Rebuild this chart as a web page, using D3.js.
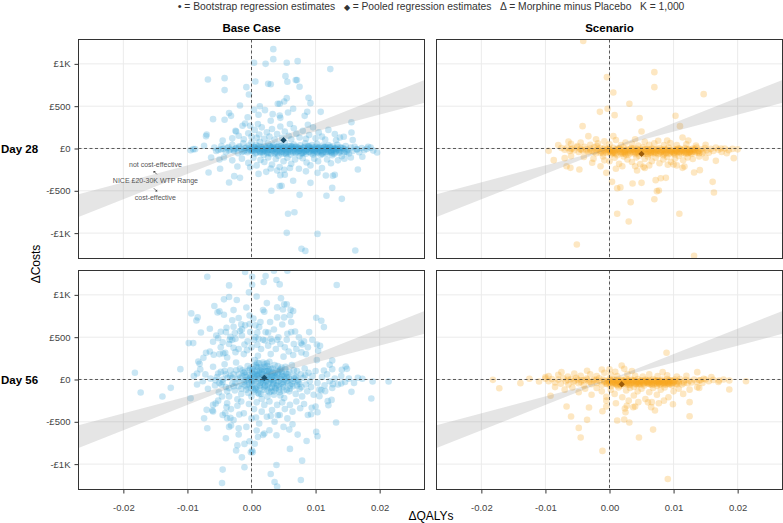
<!DOCTYPE html>
<html>
<head>
<meta charset="utf-8">
<script src="https://cdn.jsdelivr.net/npm/d3@7"></script>
<style>
  body { margin: 0; background: #fff; }
  svg text { font-family: "Liberation Sans", Arial, Helvetica, sans-serif; }
  .grid line { stroke: #ebebeb; stroke-width: 1; }
  .zero { stroke: #333; stroke-width: 0.8; stroke-dasharray: 3,2.5; }
  .axis path.domain { display: none; }
  .axis line { stroke: #333; }
  .axis text { fill: #444; font-size: 9.5px; }
</style>
</head>
<body>
<div id="chart"></div>
<script>
/*
 * Cost-effectiveness planes: 2 scenarios x 2 time points
 * Bootstrap points are [dQALY x 1e4, dCost in £]
 */

const scenarios = ["Base Case", "Scenario"];
const timepoints = ["Day 28", "Day 56"];

const xDomain = [-0.027, 0.027];
const yDomain = [-1300, 1288];
const xTicks = [-0.02, -0.01, 0, 0.01, 0.02];
const xTickLabels = ["-0.02", "-0.01", "0.00", "0.01", "0.02"];
const yTicks = [-1000, -500, 0, 500, 1000];
const yTickLabels = ["-£1K", "-£500", "£0", "£500", "£1K"];

// NICE willingness-to-pay band (£ per QALY)
const wtpRange = [20000, 30000];

// pooled regression estimates, order: base28, scen28, base56, scen56
const pooledQaly = [0.0050, 0.0050, 0.0020, 0.0019];
const pooledCost = [98, -64, 20, -56];

const noteLines = ["not cost-effective", "NICE £20-30K WTP Range", "cost-effective"];
const noteCost = [-186, -383, -576];
const noteArrowCost = [-288, -488];
const noteQaly = -0.015;

// header legend pieces: [text, font size]
const headerParts = [
  ["\u2022", 11], [" = Bootstrap regression estimates   ", 10.3],
  ["\u25C6", 7.5], [" = Pooled regression estimates   \u0394 = Morphine minus Placebo   K = 1,000", 10.3]
];

const baseDay28 = [
  [34,1174],[34,1056],[4,1013],[22,1000],[55,1013],[72,1032],[123,938],[-68,816],[-42,831],[-42,690],[-8,725],[6,792],[-4,638],[26,764],[30,760],[53,855],[56,788],[69,808],[71,808],[75,729],
  [-18,508],[41,528],[44,528],[51,556],[55,595],[89,599],[92,536],[-60,347],[-42,339],[-35,418],[-32,386],[-6,370],[4,457],[11,398],[13,500],[21,453],[30,327],[33,406],[44,390],[57,425],[45,362],[65,469],[83,386],[87,433],[108,433],[156,311],[156,189],[-71,146],[-70,165],[-24,201],[-10,296],[-14,268],[-2,268],
  [-74,32],[-91,-8],[-95,-20],[-88,-8],[-63,-106],[-43,-106],[-67,-284],[-49,-240],[-35,-402],[-27,-327],[-18,-347],[-22,-213],[-2,-221],[11,-300],[23,-276],[30,-236],[45,-315],[52,-311],[51,-252],[31,-500],[44,-445],[47,-440],[65,-382],[75,-548],[92,-406],[103,-288],[116,-319],[127,-323],[130,-310],[126,-465],[117,-559],[141,-595],[166,-248],[57,-772],[67,-753],[55,-997],[103,-1009],[78,-1186],[84,-1210],[162,-1206],
  [182,20],[196,-47],[173,-98],[155,-106],[165,-12],[158,99],[144,138],[138,130],[132,98],[149,-43],[141,-91],[126,-80],
  [-30,120],[-20,150],[-12,110],[-5,180],[0,140],[5,220],[8,125],[12,165],[16,250],[20,115],[24,190],[28,140],[32,230],[36,105],[40,170],[45,260],[48,125],[52,200],[58,150],[62,110],[66,240],[70,175],[75,130],[80,210],[85,115],[90,160],[96,250],[100,120],[105,190],[110,140],[115,105],[120,220],[-45,95],[-25,210],[10,290],[60,290],[88,280],[130,170],
  [-30,-140],[-15,-120],[-5,-170],[3,-110],[8,-200],[14,-135],[20,-160],[26,-105],[32,-190],[38,-125],[44,-220],[50,-150],[56,-110],[62,-180],[68,-130],[74,-240],[80,-115],[86,-165],[92,-200],[98,-120],[104,-150],[110,-230],[118,-130],[124,-175],[135,-140],[145,-120],[-50,-130],[40,-260],[60,-230],[85,-270],
  [-58,12],[-52,-18],[-47,30],[-44,-5],[-40,-40],[-36,18],[-33,-12],[-30,45],[-27,-30],[-24,5],[-21,-55],[-19,25],[-16,-8],[-13,60],[-11,-22],[-8,10],[-6,-45],[-4,35],[-2,-15],[0,70],
  [1,-5],[3,-35],[4,20],[6,-60],[7,45],[9,-12],[10,5],[12,-28],[13,80],[14,-50],[16,15],[17,-8],[19,-75],[20,35],[21,-20],[23,0],[24,-42],[26,60],[27,-14],[29,22],[30,-65],[31,8],[33,-30],[34,40],[36,-5],[37,-52],[39,18],[40,-20],[42,-85],[43,50],[45,-10],[46,25],[48,-38],[49,5],[51,-60],[52,70],[54,-18],[55,12],[57,-45],[58,30],[60,-8],[61,-72],[63,15],[64,-28],[66,48],[67,-3],[69,-55],[70,22],[72,-35],[73,5],[75,-90],[76,38],[78,-15],[79,-48],[81,10],[82,-25],[84,62],[85,-62],[87,-5],[88,28],[90,-40],[91,0],[93,-20],[94,42],[96,-70],[97,15],[99,-32],[100,-8],[102,55],[103,-50],[105,18],[106,-22],[108,-78],[109,5],[111,35],[112,-40],[114,-12],[115,22],[117,-58],[118,-2],[120,40],[121,-28],[123,8],[124,-45],[126,-15],[127,25],[129,-62],[130,0],[132,-30],[134,45],[135,-10],[137,-50],[139,15],[140,-25],[143,5],[145,-40],[147,30],[150,-15],[152,-60],[155,10],[158,-30],[161,20],[164,-8],[168,-45],[172,5],[176,-20],[180,-5],[186,10],[190,-25],
  [2,-25],[5,8],[8,-48],[11,25],[15,-10],[18,-32],[22,12],[25,-55],[28,30],[32,-18],[35,-2],[38,-38],[41,15],[44,-25],[47,-60],[50,-5],[53,20],[56,-35],[59,-15],[62,5],[65,-48],[68,18],[71,-10],[74,-30],[77,0],[80,-55],[83,20],[86,-18],[89,-35],[92,8],[95,-12],[98,-50],[101,20],[104,-5],[107,-35],[110,-18],[113,10],[116,-40],[119,-20],[122,12],[125,-35],[128,-8],[131,-45],[134,10],[137,-20],
  [-4,0],[0,-30],[6,15],[13,-42],[19,-5],[26,-25],[33,15],[40,-55],[47,5],[54,-48],[61,30],[68,-25],[75,-5],[82,-40],[89,15],[96,-28],[103,0],[110,-55],[117,15],[124,-25],[131,5],[138,-35],[145,-10],[-12,-35],[-20,12],[-28,-15],[-38,5],[-48,-10],[-55,-30],
  [21,-30],[24,10],[27,-50],[30,-15],[33,25],[36,-60],[39,-8],[42,30],[45,-42],[48,-20],[51,18],[54,-65],[57,0],[60,-35],[63,25],[66,-12],[69,-45],[72,10],[75,-25],[78,-60],[81,5],[84,-35],[87,-15],[90,25],[93,-55],[96,0],[99,-20],[102,-45],[105,5],[108,-28],[111,-65],[114,15],[117,-10],[120,-38],[123,20],[126,-55],[129,-18],[10,-10],[14,20],[17,-45],[5,-15],[0,10],[-5,-25],[-10,5],[-15,-40],[132,-10],[140,5],[148,-35],[-25,-5],[-35,-25]
];

const scenarioDay28 = [
  [-41,1270],[-4,843],[6,662],[70,902],[70,725],[147,642],[31,528],[-15,433],[-3,469],[8,394],[47,359],[103,386],[-42,264],[50,201],[110,264],[-33,146],[-21,110],[6,146],[76,91],[114,130],[123,95],[-64,83],
  [-95,-28],[-87,-138],[-70,-114],[-67,-209],[-61,-229],[-47,-248],[-27,-169],[-14,-209],[-5,-288],[4,-394],[12,-469],[17,-460],[36,-414],[50,-406],[33,-634],[12,-772],[30,-863],[-51,-1135],[132,-1269],[70,-599],[74,-504],[77,-497],[72,-374],[80,-351],[88,-347],[109,-772],[161,-394],[163,-520],[132,-284],[141,-256],[114,-229],[117,-213],[105,-200],[91,-193],[166,-146],[183,-55],[194,-114],[174,0],[53,-217],[43,-260],[40,-209],
  [-80,40],[-60,55],[-45,70],[-30,45],[-18,60],[-8,85],[0,50],[10,100],[18,40],[25,70],[35,55],[45,35],[55,80],[62,45],[70,60],[85,40],[95,65],[105,40],[120,50],[135,35],[150,45],[-50,30],[-20,30],[40,110],[90,95],
  [-60,-90],[-40,-100],[-25,-120],[-10,-95],[0,-150],[8,-110],[15,-180],[22,-95],[28,-130],[35,-160],[42,-105],[48,-185],[55,-125],[60,-95],[66,-150],[72,-110],[78,-175],[84,-130],[90,-100],[96,-160],[102,-120],[108,-90],[115,-140],[122,-105],[130,-125],[140,-95],[150,-110],[20,-210],[62,-200],[100,-190],[-8,-140],[10,-240],[55,-230],
  [-75,5],[-70,-15],[-66,10],[-62,-30],[-58,0],[-55,-20],[-51,15],[-48,-40],[-45,-5],[-42,-25],[-39,20],[-36,-10],[-33,-45],[-30,0],[-27,-30],[-24,15],[-21,-55],[-18,-10],[-15,5],[-12,-35],[-10,-60],[-7,10],[-5,-20],[-2,-45],[0,-5],
  [2,-70],[4,-25],[6,8],[8,-50],[10,-15],[12,-80],[14,-35],[16,0],[18,-60],[20,-20],[22,10],[24,-45],[26,-75],[28,-8],[30,-30],[32,-55],[34,5],[36,-40],[38,-18],[40,-65],[42,-2],[44,-35],[46,-85],[48,-12],[50,-50],[52,15],[54,-28],[56,-62],[58,-5],[60,-42],[62,-20],[64,-75],[66,0],[68,-38],[70,-55],[72,-15],[74,-30],[76,-68],[78,5],[80,-45],[82,-22],[84,-80],[86,-8],[88,-52],[90,-30],[92,10],[94,-62],[96,-18],[98,-40],[100,-5],[102,-70],[104,-28],[106,-48],[108,2],[110,-35],[112,-60],[114,-15],[116,-42],[118,5],[120,-25],[122,-55],[124,-8],[126,-35],[128,-65],[130,0],[132,-20],[134,-45],[136,10],[138,-30],[140,-55],[143,-10],[146,-38],[149,5],[152,-22],[155,-50],[158,-5],[162,-30],[166,10],[170,-15],[175,-40],[180,0],[186,-20],[192,-5],[200,-10],
  [-8,-28],[-3,-8],[1,-38],[5,-55],[9,-22],[13,-5],[17,-42],[21,-62],[25,-18],[29,-48],[33,-25],[37,-2],[41,-50],[45,-20],[49,-38],[53,-60],[57,-15],[61,-30],[65,-48],[69,-8],[73,-52],[77,-25],[81,-12],[85,-40],[89,-60],[93,-22],[97,-35],[101,-50],[105,-12],[109,-45],[113,-28],[117,-58],[121,-10],[125,-40],[129,-22],[133,-5],[137,-48],
  [-20,-20],[-14,-50],[0,-25],[7,-40],[15,-18],[23,-35],[31,-12],[39,-45],[47,-30],[55,-45],[63,-10],[71,-35],[79,-60],[87,-25],[95,-48],[103,-30],[111,-15],[119,-40],[127,-50],[135,-25],[145,-55],[-30,-25],[-45,-15],[-60,-10],
  [-15,-30],[-10,-8],[-5,-48],[0,-15],[5,-35],[10,-62],[15,-5],[20,-45],[25,-25],[30,-70],[35,-15],[40,-35],[45,-55],[50,-20],[55,-5],[60,-65],[65,-30],[70,-45],[75,-10],[80,-35],[85,-65],[90,-15],[95,-30],[100,-55],[105,-40],[110,-5],[115,-30],[120,-60],[125,-20],[130,-38],[4,-50],[24,-58],[44,-12],[64,-50],[84,-22],[104,-18],[124,-48],[-24,-40],[-36,-30],[140,-30]
];

const baseDay56 = [
  [-69,1215],[-35,1112],[-43,947],[-35,974],[-23,939],[-10,1270],[1,1215],[1,1120],[-4,1030],[-58,868],[-53,793],[-50,805],[-43,765],[-94,781],[-86,698],[-84,734],[-79,556],[-98,430],[-91,430],[-60,446],[-52,489],[-48,564],[-39,611],[-33,505],[-28,623],[-26,548],[-16,651],[-15,592],[-20,726],[-18,572],[-3,757],[-3,655],[-34,470],[-30,470],[-28,375],[-25,323],[-65,331],[-71,316],[-75,256],[-83,213],[-81,185],[-59,292],[-44,308],[-41,316],[-11,414],[-7,347],
  [-182,79],[-173,-154],[-139,-201],[-126,-99],[-111,122],[-95,-221],[-85,71],[-70,-359],[-74,-458],[-69,-576],[-61,-367],[-60,-378],[-56,-284],[-46,-201],[-41,-398],[-39,-327],[-38,-458],[-33,-454],[-32,-544],[-19,-414],[-22,-233],[-20,-576],[-40,-694],[-22,-777],[-24,-840],[-11,-761],[-11,-1037],[-45,-1065],[-46,-1223],[-3,-730],[-1,-860],
  [22,1223],[19,1152],[35,1285],[56,1285],[39,1176],[44,1124],[133,1116],[24,903],[18,821],[40,852],[51,888],[55,888],[49,828],[61,824],[65,808],[40,734],[51,734],[62,679],[101,730],[109,694],[113,619],[14,679],[6,640],[9,556],[26,556],[56,540],[68,568],[4,470],[11,480],[21,460],[30,480],[40,470],[77,430],[79,414],[102,414],[104,339],[107,398],[102,229],[122,174],[126,122],[113,106],[141,114],[147,154],[149,126],[126,225],[173,8],[189,-24],[214,-24],[156,-146],[140,-47],[127,-55],[109,-126],[106,-197],[115,-138],[119,-256],[125,-241],[120,-304],[94,-335],[100,-320],[103,-387],[93,-410],[132,-509],[187,-225],[101,-619],[103,-671],[86,-726],[72,-651],[59,-592],[64,-529],[79,-959],[39,-1010],[30,-1116],[36,-1211],[40,-1266],[77,-1187],[2,-860],[20,-639],[8,-603],[18,-655],[39,-659],[30,-430],[41,-422],[7,-450],[1,-840],
  [-65,600],[-55,520],[-48,380],[-40,560],[-35,420],[-30,700],[-25,480],[-20,360],[-15,520],[-10,640],[-6,450],[-2,560],[0,380],[3,720],[6,500],[9,410],[12,620],[15,360],[18,470],[22,560],[26,400],[29,680],[32,450],[35,590],[38,360],[42,500],[45,420],[48,650],[52,380],[55,470],[58,330],[62,560],[66,420],[70,360],[74,500],[78,320],[82,450],[88,380],[95,470],[-50,300],[-38,260],[-12,300],[10,280],[30,300],[50,270],[65,290],[85,300],[-45,440],[20,800],[-8,850],[8,980],[46,960],[60,760],[-28,820],[90,560],
  [-60,-300],[-52,-250],[-45,-420],[-38,-280],[-32,-350],[-28,-480],[-22,-310],[-16,-260],[-12,-400],[-8,-560],[-4,-290],[0,-460],[4,-350],[8,-270],[12,-520],[16,-380],[20,-300],[24,-440],[28,-260],[32,-360],[36,-500],[40,-300],[44,-420],[48,-270],[52,-350],[56,-460],[60,-300],[64,-380],[70,-260],[76,-340],[82,-290],[88,-420],[-20,-650],[10,-680],[28,-600],[50,-560],[-35,-560],[5,-760],[60,-820],[-15,-920],
  [-90,40],[-85,-60],[-80,120],[-76,-20],[-72,60],[-68,-110],[-64,10],[-60,150],[-57,-70],[-54,30],[-51,-150],[-48,90],[-45,-30],[-42,180],[-40,-90],[-37,20],[-35,-200],[-33,110],[-30,-50],[-28,60],[-26,-130],[-24,200],[-22,0],[-20,-80],[-18,130],[-16,-170],[-14,40],[-12,-30],[-10,90],[-8,-120],[-6,160],[-4,-60],[-2,20],[0,-200],[1,100],[3,-20],[5,230],[6,-100],[8,50],[10,-160],[11,140],[13,-40],[15,70],[16,-230],[18,10],[20,180],[21,-70],[23,100],[25,-130],[27,30],[28,210],[30,-10],[32,-90],[33,130],[35,-180],[37,50],[39,-40],[41,160],[43,-120],[45,20],[47,90],[49,-60],[51,-220],[53,120],[55,-20],[57,60],[59,-140],[61,0],[63,170],[65,-80],[67,40],[69,-170],[71,100],[73,-30],[75,-110],[77,60],[79,-200],[81,20],[83,130],[85,-60],[87,-140],[89,80],[91,-20],[93,-90],[95,40],[97,-180],[100,100],[103,-40],[106,-120],[110,30],[114,-70],[118,60],[122,-20],[126,-100],[130,10],[135,-60],[140,40],[146,-30],[152,10],[160,-40],[166,20],
  [-18,20],[-15,-50],[-12,80],[-9,-10],[-6,-90],[-3,50],[0,-30],[2,120],[4,-60],[6,10],[8,150],[10,-20],[12,70],[14,-100],[16,30],[18,-40],[20,100],[22,-10],[24,-80],[26,60],[28,-30],[30,130],[32,0],[34,-60],[36,80],[38,-110],[40,20],[42,-20],[44,110],[46,-50],[48,40],[50,-90],[52,0],[54,70],[56,-40],[58,20],
  [-14,110],[-10,-70],[-5,0],[-1,-100],[3,160],[7,-120],[9,40],[13,-70],[17,120],[19,-10],[23,40],[25,160],[29,-100],[31,60],[35,-20],[39,100],[43,-80],[47,140],[51,40],[55,-120],[59,90],[63,-50],[67,10],[71,-70],
  [0,40],[5,90],[10,60],[15,140],[20,20],[25,100],[12,190],[18,200],[8,100],[2,70],[-4,110],[-8,30],[28,90],[35,40],[-25,-40],[-30,20],[-35,-100],[-40,60],[-45,0],[-50,-40],[5,-140],[15,-170],[25,-200],[35,-140],[45,-190],[-5,-160],[60,-110],[65,-20],[70,30],[75,-50],
  [-10,50],[-6,-20],[-2,130],[1,-60],[4,30],[7,170],[9,-90],[11,10],[13,110],[15,-30],[17,60],[19,-120],[21,150],[23,-20],[24,50],[26,-60],[27,120],[29,10],[31,-140],[33,80],[34,-40],[36,170],[38,30],[40,-70],[42,90],[44,-150],[46,0],[48,60],[50,-30],[53,150],[-16,-110],[-20,60],[-24,110],[-28,-80],[-33,40],[-38,-140],[-42,100],[-47,-60],[-52,70],[-56,-10],[0,0],[3,-120],[6,60],[9,200],[12,-170],[16,90],[20,-90],[24,190],[28,-150],[32,40],[37,-100],[41,60],[45,120],[50,-130],[55,30],[60,-70],[66,110],[72,-10],[78,-90],[84,50]
];

const scenarioDay56 = [
  [-182,-4],[-172,-103],[-139,-43],[-125,8],[-110,-24],[-92,-193],[-75,87],[-67,-320],[-60,-438],[-48,-572],[-45,-686],[-35,103],[-32,-331],[-35,-477],[-12,118],[-11,-375],[-11,-844],[-5,-205],[9,91],[19,166],[23,126],[12,-485],[23,-473],[31,-509],[25,-387],[27,-310],[40,-320],[46,-686],[68,-592],[65,-327],[66,-268],[83,87],[89,316],[99,-292],[91,-1176],[125,-268],[125,-434],[137,87],[137,-91],[159,28],[171,-12],[187,-118],[187,-12],[213,-20],[142,-10],[147,8],[24,-343],[37,-327],[45,-268],[71,-367],[77,-280],
  [-95,40],[-80,55],[-65,35],[-55,70],[-45,45],[-30,60],[-20,40],[-8,80],[2,55],[12,40],[28,65],[40,45],[52,35],[62,60],[75,40],[90,50],[105,35],[120,45],[-100,30],[0,120],[35,100],
  [-85,-90],[-70,-120],[-58,-95],[-48,-150],[-38,-110],[-28,-180],[-20,-100],[-12,-140],[-5,-250],[2,-120],[8,-170],[14,-95],[20,-210],[26,-130],[32,-100],[38,-190],[44,-140],[50,-110],[56,-230],[62,-150],[68,-100],[74,-180],[80,-120],[86,-95],[92,-210],[100,-140],[108,-110],[115,-170],[125,-120],[140,-100],[30,-250],[60,-270],[-5,-320],[10,-280],[85,-250],
  [-100,10],[-95,-20],[-90,5],[-85,-35],[-80,0],[-76,-50],[-72,15],[-68,-20],[-64,-60],[-60,5],[-56,-30],[-52,20],[-48,-45],[-44,-10],[-40,-70],[-36,10],[-32,-25],[-28,-55],[-24,0],[-20,-40],[-16,15],[-12,-65],[-8,-15],[-4,-35],[0,5],[2,-80],[4,-25],[6,-50],[8,0],[10,-35],[12,-60],[14,-10],[16,-45],[18,-75],[20,-5],[22,-30],[24,-55],[26,10],[28,-40],[30,-20],[32,-65],[34,0],[36,-35],[38,-85],[40,-15],[42,-50],[44,5],[46,-28],[48,-60],[50,-10],[52,-42],[54,-70],[56,0],[58,-25],[60,-50],[62,-8],[64,-35],[66,-65],[68,5],[70,-20],[72,-45],[74,-75],[76,-10],[78,-30],[80,-55],[82,0],[84,-38],[86,-18],[88,-62],[90,5],[92,-28],[94,-48],[96,-10],[98,-70],[100,-30],[102,0],[104,-50],[106,-20],[108,-40],[110,5],[113,-60],[116,-25],[119,-5],[122,-45],[125,-15],[128,-35],[132,0],[136,-30],[140,-10],[145,-40],[150,0],[155,-20],[162,-5],[170,-30],[178,0],
  [-15,-20],[-10,0],[-5,-50],[0,-25],[5,-5],[9,-45],[13,-20],[17,-55],[21,-15],[25,-38],[29,-5],[33,-48],[37,-20],[41,-60],[45,-35],[49,-15],[53,-52],[57,-30],[61,-45],[65,-12],[69,-55],[73,-25],[77,-40],[81,-15],[85,-55],[89,-32],[93,-8],[97,-45],[101,-20],[105,-60],[-25,-15],[-35,-5],[-45,-30],[-55,-15],[-65,-5],
  [-2,-15],[3,-40],[7,-20],[11,-8],[15,-30],[19,-42],[23,-18],[27,-58],[31,-32],[35,-12],[39,-45],[43,-25],[47,-40],[51,-28],[55,-18],[59,-38],[63,-55],[67,-28],[71,-10],[75,-50],[79,-22],[83,-45],[87,-30],[91,-50],[95,-25],[99,-40],
  [-8,-30],[-3,-55],[1,-10],[6,-35],[10,-55],[14,-20],[18,-5],[22,-48],[26,-25],[30,-62],[34,-38],[38,-10],[42,-30],[46,-52],[50,-22],[54,-40],[58,-8],[62,-30],[66,-50],[70,-35],[74,-15],[78,-58],[82,-28],[86,-42],[90,-20],[94,-60],[98,-15],[-20,-5],[-30,-30],[-40,-10],[0,-45],[12,-70],[28,-12],[44,-62],[60,-20],[76,-32],[92,-40],[108,-25],[116,-45],[-50,0]
];

const panelData = [baseDay28, scenarioDay28, baseDay56, scenarioDay56];

const pointColors = ["#37a3d7", "#f7a51c"];
const pooledColors = ["#1a4e6b", "#9c5c0a"];

const layout = { left: 78.5, top: 39.5, panelW: 346, panelH: 219, gapX: 12, gapY: 12 };

/*
 * PlaneVis - one cost-effectiveness plane panel
 */
class PlaneVis {
  constructor(_svg, _index, _points) {
    this.svg = _svg;
    this.index = _index;
    this.col = _index % 2;
    this.row = Math.floor(_index / 2);
    this.points = _points;
    this.initVis();
  }

  initVis() {
    let vis = this;

    vis.width = layout.panelW;
    vis.height = layout.panelH;
    vis.left = layout.left + vis.col * (layout.panelW + layout.gapX);
    vis.top = layout.top + vis.row * (layout.panelH + layout.gapY);

    vis.g = vis.svg.append("g").attr("transform", `translate(${vis.left},${vis.top})`);

    vis.x = d3.scaleLinear().domain(xDomain).range([0, vis.width]);
    vis.y = d3.scaleLinear().domain(yDomain).range([vis.height, 0]);

    vis.g.append("clipPath").attr("id", "clip-" + vis.index)
      .append("rect").attr("width", vis.width).attr("height", vis.height);

    // Grid lines
    let grid = vis.g.append("g").attr("class", "grid");
    grid.selectAll(".gx").data(xTicks).join("line").attr("class", "gx")
      .attr("x1", d => vis.x(d)).attr("x2", d => vis.x(d))
      .attr("y1", 0).attr("y2", vis.height);
    grid.selectAll(".gy").data(yTicks).join("line").attr("class", "gy")
      .attr("x1", 0).attr("x2", vis.width)
      .attr("y1", d => vis.y(d)).attr("y2", d => vis.y(d));

    vis.plot = vis.g.append("g").attr("clip-path", `url(#clip-${vis.index})`);

    // Axes only on the outer panels
    if (vis.col === 0) {
      vis.yAxis = d3.axisLeft(vis.y).tickValues(yTicks)
        .tickFormat((d, i) => yTickLabels[i]).tickSize(4).tickPadding(4);
      vis.g.append("g").attr("class", "axis").call(vis.yAxis);
    }
    if (vis.row === 1) {
      vis.xAxis = d3.axisBottom(vis.x).tickValues(xTicks)
        .tickFormat((d, i) => xTickLabels[i]).tickSize(4).tickPadding(11);
      vis.g.append("g").attr("class", "axis")
        .attr("transform", `translate(0,${vis.height})`).call(vis.xAxis);
    }

    vis.wrangleData();
  }

  wrangleData() {
    let vis = this;
    vis.displayData = vis.points.map(d => ({ q: d[0] * 1e-4, c: d[1] }));
    vis.band = xDomain.map(q => ({ q: q, lo: q * wtpRange[0], hi: q * wtpRange[1] }));
    vis.updateVis();
  }

  updateVis() {
    let vis = this;

    // Bootstrap estimates
    vis.plot.append("g").selectAll("circle")
      .data(vis.displayData)
      .join("circle")
      .attr("cx", d => vis.x(d.q))
      .attr("cy", d => vis.y(d.c))
      .attr("r", 3.3)
      .attr("fill", pointColors[vis.col])
      .attr("fill-opacity", 0.27);

    // WTP band
    let area = d3.area().x(d => vis.x(d.q)).y0(d => vis.y(d.lo)).y1(d => vis.y(d.hi));
    vis.plot.append("path").datum(vis.band)
      .attr("d", area).attr("fill", "#7f7f7f").attr("fill-opacity", 0.2);

    // Zero lines
    vis.plot.append("line").attr("class", "zero")
      .attr("x1", vis.x(0)).attr("x2", vis.x(0)).attr("y1", 0).attr("y2", vis.height);
    vis.plot.append("line").attr("class", "zero")
      .attr("x1", 0).attr("x2", vis.width).attr("y1", vis.y(0)).attr("y2", vis.y(0));

    // Pooled estimate
    vis.plot.append("path")
      .attr("d", d3.symbol(d3.symbolSquare, 20)())
      .attr("transform", `translate(${vis.x(pooledQaly[vis.index])},${vis.y(pooledCost[vis.index])}) rotate(45)`)
      .attr("fill", pooledColors[vis.col]);

    if (vis.index === 0) vis.drawNote();

    vis.g.append("rect").attr("width", vis.width).attr("height", vis.height)
      .attr("fill", "none").attr("stroke", "#333").attr("stroke-width", 1);
  }

  drawNote() {
    let vis = this;
    let nx = vis.x(noteQaly);
    vis.g.selectAll(".note").data(noteLines).join("text").attr("class", "note")
      .attr("x", nx).attr("y", (d, i) => vis.y(noteCost[i]))
      .attr("text-anchor", "middle").attr("dominant-baseline", "central")
      .style("font-size", "7px").style("fill", "#555")
      .text(d => d);
    // little arrows pointing to each side of the band
    noteArrowCost.forEach((c, i) => {
      let cy = vis.y(c), s = i === 0 ? -1 : 1;
      vis.g.append("line")
        .attr("x1", nx - 1.5 * s).attr("y1", cy - 1.5 * s)
        .attr("x2", nx + 1.5 * s).attr("y2", cy + 1.5 * s)
        .attr("stroke", "#444").attr("stroke-width", 0.8);
      vis.g.append("path")
        .attr("d", `M${nx + 1.8 * s},${cy + 1.8 * s}l${-2.2 * s},0l${2.2 * s},${-2.2 * s}z`)
        .attr("fill", "#444");
    });
  }
}

let svg = d3.select("#chart").append("svg").attr("width", 783).attr("height", 523);

panelData.forEach((d, i) => new PlaneVis(svg, i, d));

// Strip labels (columns)
scenarios.forEach((s, i) => {
  svg.append("text")
    .attr("x", layout.left + i * (layout.panelW + layout.gapX) + layout.panelW / 2)
    .attr("y", 31.5).attr("text-anchor", "middle")
    .style("font-size", "11.5px").style("font-weight", "bold").text(s);
});

// Row labels
timepoints.forEach((t, i) => {
  svg.append("text")
    .attr("x", 1)
    .attr("y", layout.top + i * (layout.panelH + layout.gapY) + layout.panelH / 2)
    .attr("dominant-baseline", "central")
    .style("font-size", "11.5px").style("font-weight", "bold").text(t);
});

// Axis titles
svg.append("text")
  .attr("transform", "translate(40,264) rotate(-90)")
  .attr("text-anchor", "middle")
  .style("font-size", "12px").text("\u0394Costs");

svg.append("text")
  .attr("x", 431).attr("y", 520).attr("text-anchor", "middle")
  .style("font-size", "12px").text("\u0394QALYs");

// Header legend
svg.append("text")
  .attr("x", 431).attr("y", 10).attr("text-anchor", "middle")
  .style("fill", "#333").style("white-space", "pre")
  .selectAll("tspan").data(headerParts).join("tspan")
  .style("font-size", d => d[1] + "px")
  .text(d => d[0]);
</script>
</body>
</html>
